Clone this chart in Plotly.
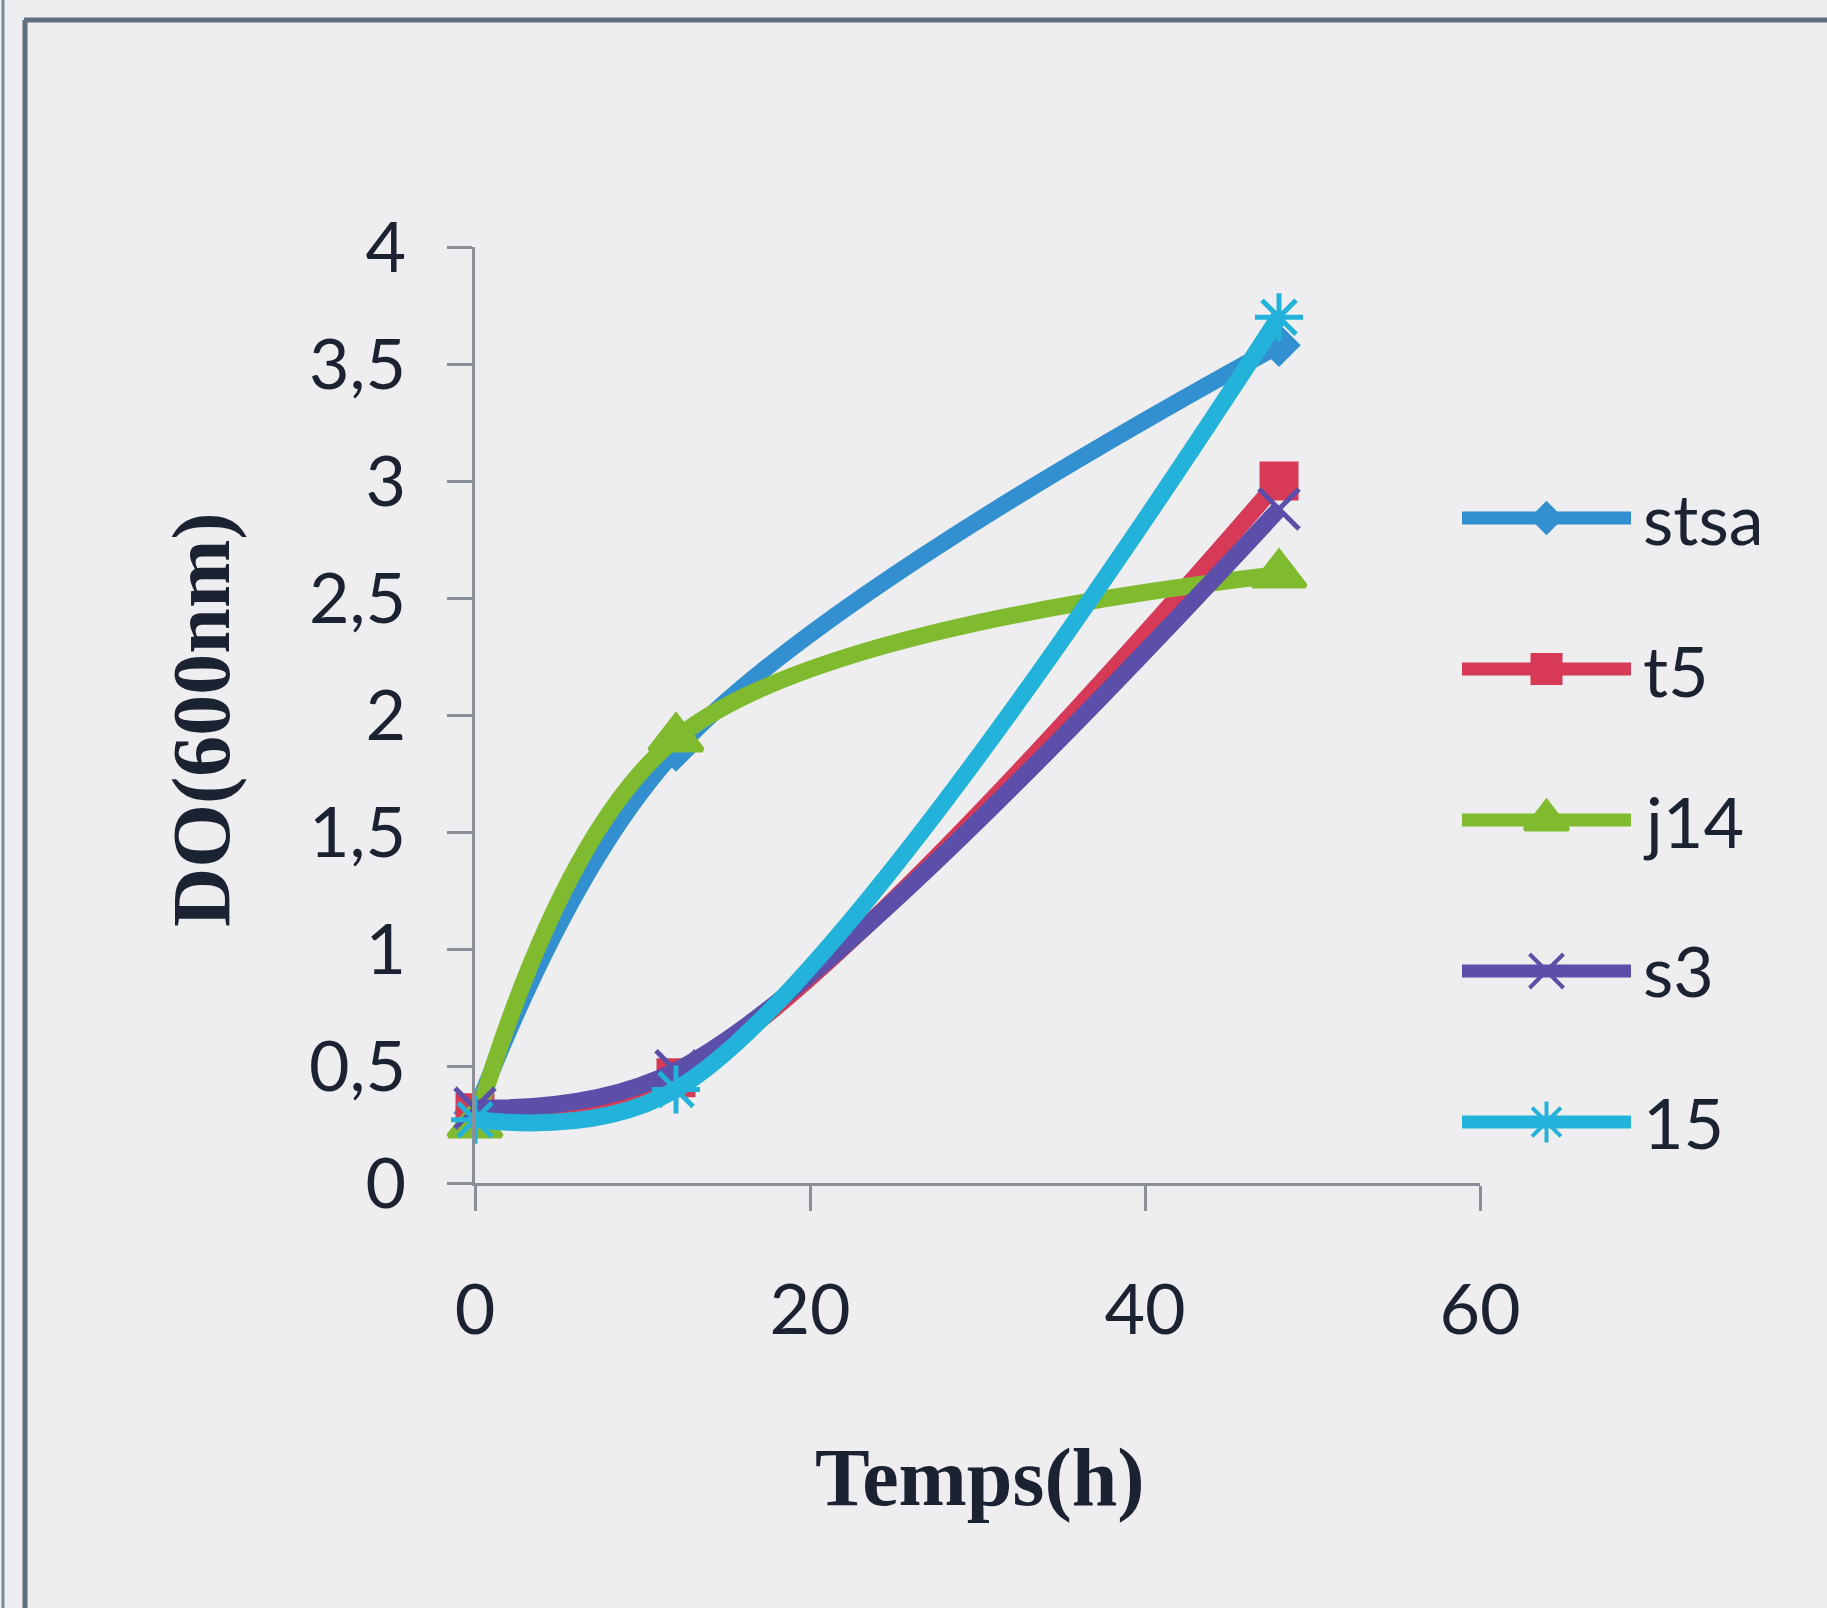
import plotly.graph_objects as go

# Growth curves: optical density at 600 nm versus time
temps_h = [0, 12, 48]

series_names = ["stsa", "t5", "j14", "s3", "15"]
do_stsa = [0.30, 1.85, 3.58]
do_t5 = [0.30, 0.45, 3.00]
do_j14 = [0.25, 1.90, 2.60]
do_s3 = [0.32, 0.48, 2.88]
do_15 = [0.27, 0.40, 3.70]

y_tick_values = [0, 0.5, 1, 1.5, 2, 2.5, 3, 3.5, 4]
y_tick_labels = ["0", "0,5", "1", "1,5", "2", "2,5", "3", "3,5", "4"]
x_tick_values = [0, 20, 40, 60]
x_tick_labels = ["0", "20", "40", "60"]

x_title = "Temps(h)"
y_title = "DO(600nm)"

W, H = 1827, 1608


def fx(px):
    return px / W


def fy(py):
    return 1 - py / H


colors = ["#3290d0", "#d63a56", "#80bb2f", "#5b4faa", "#22b2da"]
symbols = ["diamond", "square", "triangle-up", "x-thin-open", "asterisk-open"]
sizes = [28, 34, 46, 40, 40]
legend_sizes = [22, 28, 38, 34, 34]
values = [do_stsa, do_t5, do_j14, do_s3, do_15]

fig = go.Figure()

for name, vals, col, sym, sz in zip(series_names, values, colors, symbols, sizes):
    fig.add_trace(go.Scatter(
        x=temps_h, y=vals, name=name, mode="lines+markers",
        line=dict(color=col, width=17, shape="spline", smoothing=1.0),
        marker=dict(symbol=sym, size=sz, color=col,
                    line=dict(color=col, width=5)),
        cliponaxis=False, showlegend=False,
        xaxis="x", yaxis="y",
    ))

# Legend swatches drawn on their own small axes
for i, (name, col, sym, sz) in enumerate(zip(series_names, colors, symbols, legend_sizes)):
    fig.add_trace(go.Scatter(
        x=[0, 0.5, 1], y=[i, i, i], mode="lines",
        line=dict(color=col, width=13),
        showlegend=False, hoverinfo="skip", cliponaxis=False,
        xaxis="x2", yaxis="y2",
    ))
    fig.add_trace(go.Scatter(
        x=[0.5], y=[i], mode="markers",
        marker=dict(symbol=sym, size=sz, color=col, line=dict(color=col, width=4)),
        showlegend=False, hoverinfo="skip", cliponaxis=False,
        xaxis="x2", yaxis="y2",
    ))

tick_font = dict(family="Lato, 'Open Sans', sans-serif", size=70, color="#1b2231")
axis_col = "#8a9099"

annotations = []
row_px = [518, 670, 821, 970, 1122]
for name, py in zip(series_names, row_px):
    annotations.append(dict(
        text=name, x=fx(1641), y=fy(py), xref="paper", yref="paper",
        xanchor="left", yanchor="middle", showarrow=False, font=tick_font,
    ))

title_font = dict(family="'Liberation Serif', 'Times New Roman', serif",
                  size=82, color="#1b2231")
annotations.append(dict(
    text="<b>%s</b>" % x_title, x=fx(980), y=fy(1477), xref="paper", yref="paper",
    xanchor="center", yanchor="middle", showarrow=False, font=title_font,
))
annotations.append(dict(
    text="<b>%s</b>" % y_title, x=fx(202), y=fy(720), xref="paper", yref="paper",
    xanchor="center", yanchor="middle", showarrow=False, font=title_font,
    textangle=-90,
))

frame_col = "#5f6f80"
shapes = [
    dict(type="line", xref="paper", yref="paper",
         x0=fx(24), x1=1, y0=fy(20), y1=fy(20),
         line=dict(color=frame_col, width=5)),
    dict(type="line", xref="paper", yref="paper",
         x0=fx(25), x1=fx(25), y0=fy(20), y1=0,
         line=dict(color=frame_col, width=5)),
    dict(type="line", xref="paper", yref="paper",
         x0=fx(3), x1=fx(3), y0=1, y1=0,
         line=dict(color="#7a8a96", width=3)),
]

fig.update_layout(
    width=W, height=H,
    margin=dict(l=0, r=0, t=0, b=0, pad=0, autoexpand=False),
    paper_bgcolor="#eeeef1",
    plot_bgcolor="rgba(0,0,0,0)",
    annotations=annotations,
    shapes=shapes,
    xaxis=dict(
        domain=[fx(475), fx(1480)], range=[0, 60],
        tickvals=x_tick_values, ticktext=x_tick_labels,
        showline=True, linecolor=axis_col, linewidth=3,
        ticks="outside", ticklen=25, tickwidth=3, tickcolor=axis_col,
        showgrid=False, zeroline=False, tickfont=tick_font,
        ticklabelstandoff=39, anchor="y", automargin=False,
    ),
    yaxis=dict(
        domain=[fy(1183), fy(247)], range=[0, 4],
        tickvals=y_tick_values, ticktext=y_tick_labels,
        showline=True, linecolor=axis_col, linewidth=3,
        ticks="outside", ticklen=25, tickwidth=3, tickcolor=axis_col,
        showgrid=False, zeroline=False, tickfont=tick_font,
        ticklabelstandoff=27, anchor="x", automargin=False,
    ),
    xaxis2=dict(
        domain=[fx(1462), fx(1631)], range=[0, 1], visible=False,
        anchor="y2", fixedrange=True, automargin=False,
    ),
    yaxis2=dict(
        domain=[fy(1197.5), fy(442.5)], range=[4.5, -0.5], visible=False,
        anchor="x2", fixedrange=True, automargin=False,
    ),
)

fig.write_html("out.html")
